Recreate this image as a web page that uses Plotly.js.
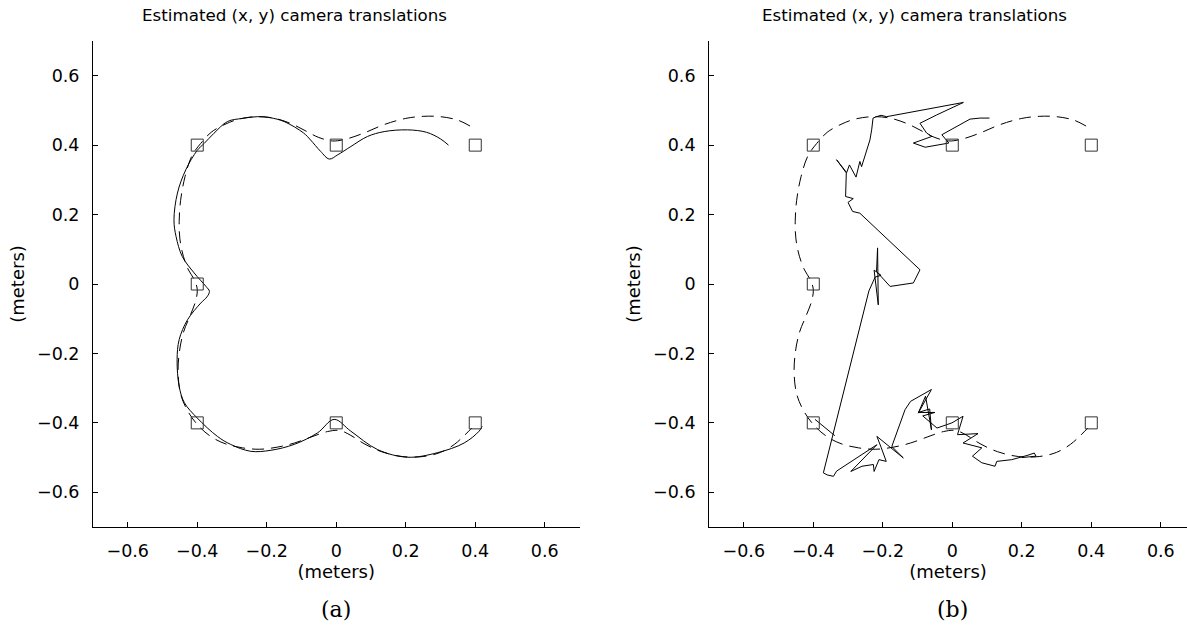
<!DOCTYPE html>
<html><head><meta charset="utf-8">
<script src="https://cdn.plot.ly/plotly-3.0.1.min.js"></script>
<style>html,body{margin:0;padding:0;background:#fff}</style>
</head><body><div id="chart" style="width:1187px;height:630px"></div>
<script>
// Landmark (camera target) positions
const markerX = [-0.4, 0, 0.4, -0.4, -0.4, 0, 0.4];
const markerY = [0.4, 0.4, 0.4, 0, -0.4, -0.4, -0.4];

// Ground-truth trajectory (dashed)
const truthX = [0.385,0.35,0.3,0.25,0.2,0.14,0.08,0.03,-0.01,-0.05,-0.09,-0.13,-0.18,-0.23,-0.28,-0.32,-0.36,-0.39,-0.415,-0.435,-0.448,-0.452,-0.45,-0.44,-0.425,-0.41,-0.4,-0.405,-0.42,-0.44,-0.452,-0.455,-0.447,-0.425,-0.395,-0.36,-0.32,-0.27,-0.22,-0.17,-0.12,-0.07,-0.025,0.01,0.04,0.08,0.13,0.19,0.25,0.3,0.34,0.37,0.39];
const truthY = [0.455,0.472,0.482,0.483,0.477,0.46,0.435,0.418,0.412,0.422,0.442,0.462,0.478,0.482,0.475,0.46,0.437,0.405,0.37,0.31,0.24,0.18,0.13,0.08,0.04,0.015,-0.015,-0.05,-0.09,-0.14,-0.2,-0.26,-0.32,-0.37,-0.41,-0.44,-0.46,-0.472,-0.476,-0.47,-0.458,-0.44,-0.425,-0.422,-0.435,-0.46,-0.483,-0.497,-0.497,-0.485,-0.462,-0.435,-0.415];

// Estimated trajectory, method (a)
const estAX = [0.323,0.3,0.26,0.205,0.138,0.09,0.042,0.004,-0.02,-0.045,-0.074,-0.094,-0.15,-0.19,-0.227,-0.27,-0.313,-0.352,-0.38,-0.4,-0.433,-0.457,-0.467,-0.461,-0.443,-0.409,-0.375,-0.365,-0.372,-0.39,-0.428,-0.452,-0.458,-0.452,-0.437,-0.4,-0.342,-0.304,-0.246,-0.188,-0.121,-0.054,-0.006,0.042,0.119,0.205,0.291,0.368,0.411,0.42];
const estAY = [0.4,0.418,0.437,0.444,0.439,0.425,0.396,0.372,0.36,0.382,0.415,0.435,0.468,0.479,0.482,0.477,0.468,0.434,0.405,0.385,0.329,0.262,0.185,0.137,0.079,0.032,-0.007,-0.021,-0.037,-0.055,-0.103,-0.16,-0.218,-0.295,-0.342,-0.386,-0.439,-0.462,-0.482,-0.479,-0.462,-0.429,-0.39,-0.424,-0.477,-0.499,-0.486,-0.458,-0.424,-0.41];

// Estimated trajectory, method (b)
const estBX = [0.107,0.08,0.051,-0.015,-0.03,-0.01,-0.078,-0.112,-0.059,-0.074,-0.093,-0.045,0.032,-0.189,-0.205,-0.218,-0.228,-0.232,-0.237,-0.246,-0.261,-0.266,-0.277,-0.296,-0.304,-0.333,-0.305,-0.307,-0.285,-0.3,-0.287,-0.266,-0.093,-0.112,-0.179,-0.218,-0.215,-0.213,-0.225,-0.205,-0.222,-0.24,-0.371,-0.36,-0.342,-0.333,-0.217,-0.292,-0.26,-0.227,-0.225,-0.211,-0.19,-0.205,-0.217,-0.141,-0.174,-0.136,-0.12,-0.06,-0.098,-0.077,-0.06,-0.065,-0.098,-0.05,-0.085,-0.044,-0.001,0.031,0.015,0.074,0.031,0.085,0.058,0.085,0.123,0.128,0.171,0.215,0.236,0.241,0.2,null,-0.395,-0.338];
const estBY = [0.478,0.478,0.475,0.44,0.43,0.406,0.394,0.406,0.425,0.435,0.463,0.487,0.523,0.482,0.486,0.482,0.478,0.444,0.415,0.386,0.338,0.353,0.308,0.343,0.321,0.358,0.32,0.252,0.246,0.235,0.209,0.204,0.041,0.003,-0.007,0.036,0.104,-0.06,0.04,0.025,0.02,-0.02,-0.544,-0.55,-0.554,-0.539,-0.463,-0.54,-0.525,-0.52,-0.54,-0.506,-0.511,-0.47,-0.439,-0.501,-0.468,-0.362,-0.338,-0.304,-0.372,-0.323,-0.42,-0.36,-0.37,-0.37,-0.38,-0.415,-0.4,-0.381,-0.434,-0.431,-0.458,-0.472,-0.496,-0.515,-0.525,-0.511,-0.506,-0.494,-0.487,-0.496,-0.5,null,-0.39,-0.437];

const tickVals = [-0.6, -0.4, -0.2, 0, 0.2, 0.4, 0.6];
const tickText = ['\u22120.6', '\u22120.4', '\u22120.2', '0', '0.2', '0.4', '0.6'];
const titleText = 'Estimated (x, y) camera translations';
const axisLabel = '(meters)';
const panelLabels = ['(a)', '(b)'];

const SANS = 'DejaVu Sans, Arial, sans-serif';
const SERIF = 'DejaVu Serif, Liberation Serif, serif';

function lineTrace(x, y, xa, ya, dash, shape) {
  return {x: x, y: y, xaxis: xa, yaxis: ya, type: 'scatter', mode: 'lines',
    line: {color: '#000', width: 1, dash: dash, shape: shape || 'linear'},
    connectgaps: false, hoverinfo: 'skip', showlegend: false};
}
function markerTrace(xa, ya) {
  return {x: markerX, y: markerY, xaxis: xa, yaxis: ya, type: 'scatter', mode: 'markers',
    marker: {symbol: 'square-open', size: 12, color: '#333', line: {width: 1, color: '#333'}},
    hoverinfo: 'skip', showlegend: false};
}

const data = [
  lineTrace(truthX, truthY, 'x', 'y', '12px,7px', 'spline'),
  lineTrace(estAX, estAY, 'x', 'y', 'solid', 'spline'),
  markerTrace('x', 'y'),
  lineTrace(truthX, truthY, 'x2', 'y2', '12px,7px', 'spline'),
  lineTrace(estBX, estBY, 'x2', 'y2', 'solid', 'linear'),
  markerTrace('x2', 'y2')
];

function axisBase(extra) {
  return Object.assign({
    showline: true, linecolor: '#000', linewidth: 1, mirror: false,
    ticks: 'inside', ticklen: 5, tickwidth: 1, tickcolor: '#000',
    showgrid: false, zeroline: false, fixedrange: true, automargin: false,
    tickmode: 'array', tickvals: tickVals, ticktext: tickText,
    tickfont: {family: SANS, size: 17.5, color: '#000'}
  }, extra);
}

const layout = {
  width: 1187, height: 630,
  margin: {l: 93, r: 0, t: 41, b: 102.5, pad: 0},
  paper_bgcolor: '#fff', plot_bgcolor: '#fff',
  showlegend: false,
  xaxis: axisBase({domain: [0, 0.4447], range: [-0.7, 0.7], anchor: 'y', ticklabelstandoff: 8,
    title: {text: axisLabel, font: {family: SANS, size: 18, color: '#000'}, standoff: 5}}),
  yaxis: axisBase({domain: [0, 1], range: [-0.7, 0.7], anchor: 'x', ticklabelstandoff: 9,
    title: {text: axisLabel, font: {family: SANS, size: 18, color: '#000'}, standoff: 7}}),
  xaxis2: axisBase({domain: [0.5631, 1], range: [-0.7, 0.6754], anchor: 'y2', ticklabelstandoff: 8,
    title: {text: axisLabel, font: {family: SANS, size: 18, color: '#000'}, standoff: 5}}),
  yaxis2: axisBase({domain: [0, 1], range: [-0.7, 0.7], anchor: 'x2', ticklabelstandoff: 9,
    title: {text: axisLabel, font: {family: SANS, size: 18, color: '#000'}, standoff: 7}}),
  annotations: [
    {text: titleText, xref: 'paper', x: 0.1846, yref: 'paper', y: 1.0535, yanchor: 'middle', xanchor: 'center',
      showarrow: false, font: {family: SANS, size: 16.7, color: '#000'}},
    {text: titleText, xref: 'paper', x: 0.7505, yref: 'paper', y: 1.0535, yanchor: 'middle', xanchor: 'center',
      showarrow: false, font: {family: SANS, size: 16.7, color: '#000'}},
    {text: panelLabels[0], xref: 'x', x: 0, yref: 'paper', y: -0.1696, yanchor: 'middle', xanchor: 'center',
      showarrow: false, font: {family: SERIF, size: 22, color: '#000'}},
    {text: panelLabels[1], xref: 'x2', x: 0, yref: 'paper', y: -0.1696, yanchor: 'middle', xanchor: 'center',
      showarrow: false, font: {family: SERIF, size: 22, color: '#000'}}
  ]
};

Plotly.newPlot('chart', data, layout, {displayModeBar: false, staticPlot: true});
</script>
</body></html>
